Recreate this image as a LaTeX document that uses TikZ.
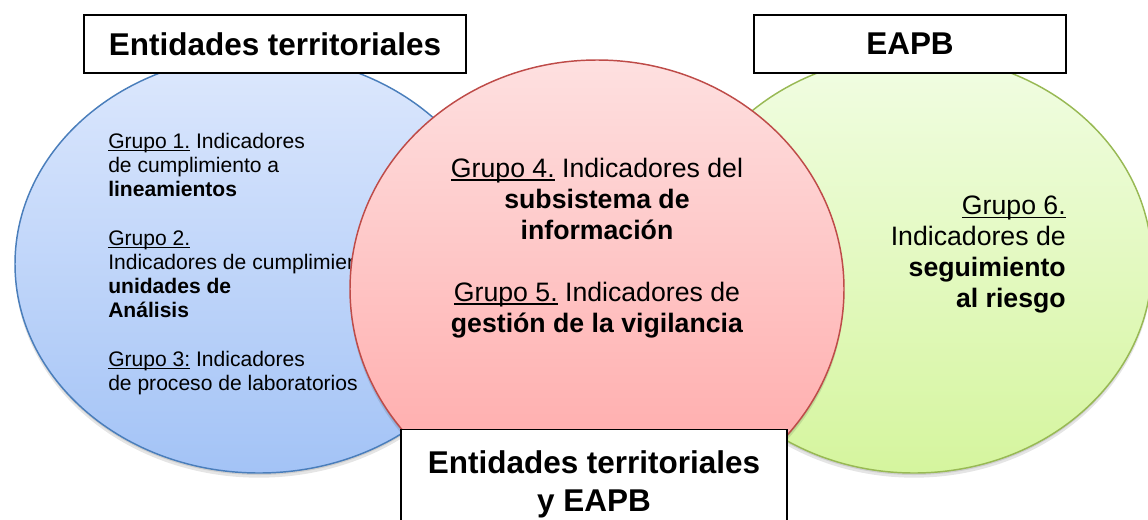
\documentclass[tikz,border=0pt]{standalone}
\usepackage{fontspec}
\setmainfont{Liberation Sans}
\usetikzlibrary{shapes.geometric}
\definecolor{blueline}{HTML}{4A7EBB}
\definecolor{bluetop}{HTML}{DDE8FD}
\definecolor{bluebot}{HTML}{A3C3F6}
\definecolor{redline}{HTML}{BE4B48}
\definecolor{redtop}{HTML}{FEE0E0}
\definecolor{redbot}{HTML}{FFA5A5}
\definecolor{greenline}{HTML}{98B954}
\definecolor{greentop}{HTML}{F1FDE3}
\definecolor{greenbot}{HTML}{D5F59E}
\newcommand{\grp}[1]{\setbox0\hbox{#1}\rlap{\rule[-0.13em]{\wd0}{0.065em}}\box0\relax}

\begin{document}
\begin{tikzpicture}[x=0.75pt, y=-0.75pt,
    blob/.style={ellipse, line width=1.1pt, inner sep=0pt,
      preaction={fill=black, opacity=.10, transform canvas={yshift=-3.5pt}},
      preaction={fill=black, opacity=.10, transform canvas={yshift=-1.5pt}}},
    tagbox/.style={draw, line width=1.1pt, fill=white, align=center,
      font=\fontsize{23.6}{28.5}\selectfont\bfseries},
    grouptext/.style={font=\fontsize{15.8}{18.15}\selectfont, inner sep=0pt},
    midtext/.style={font=\fontsize{20}{23.25}\selectfont, inner sep=0pt}]
    \useasboundingbox (0,0) rectangle (1148,519);
    \clip (0,0) rectangle (1148,519);

    \node (et) [blob, draw=blueline, top color=bluetop, bottom color=bluebot,
      minimum width=366pt, minimum height=313.5pt] at (259,264) {};
    \node (g13) [grouptext, anchor=north west, align=left] at (108,133)
      {\grp{Grupo 1.} Indicadores\\de cumplimiento a\\\textbf{lineamientos}\\[18.15pt]%
       \grp{Grupo 2.}\\Indicadores de cumplimiento de\\\textbf{unidades de}\\\textbf{Análisis}\\[18.15pt]%
       \grp{Grupo 3:} Indicadores\\de proceso de laboratorios};

    \node (ea) [blob, draw=greenline, top color=greentop, bottom color=greenbot,
      minimum width=357pt, minimum height=313.5pt] at (914,264) {};
    \node (g6) [midtext, anchor=north east, align=right] at (1066,196)
      {\grp{Grupo 6.}\\Indicadores de\\\textbf{seguimiento}\\\textbf{al riesgo}};

    \node (both) [blob, draw=redline, top color=redtop, bottom color=redbot,
      minimum width=370.5pt, minimum height=343.5pt] at (597,289) {};
    \node (g45) [midtext, anchor=north, align=center] at (597,158)
      {\grp{Grupo 4.} Indicadores del\\\textbf{subsistema de}\\\textbf{información}\\[23.25pt]%
       \grp{Grupo 5.} Indicadores de\\\textbf{gestión de la vigilancia}};

    \node (tet) [tagbox, minimum width=286.5pt, minimum height=43.5pt] at (275,44) {Entidades territoriales};
    \node (tea) [tagbox, minimum width=234pt, minimum height=43.5pt] at (910,44) {EAPB};
    \node (tboth) [tagbox, anchor=north, minimum width=289.5pt, minimum height=82.5pt] at (594,429)
      {Entidades territoriales\\y EAPB};
\end{tikzpicture}
\end{document}
